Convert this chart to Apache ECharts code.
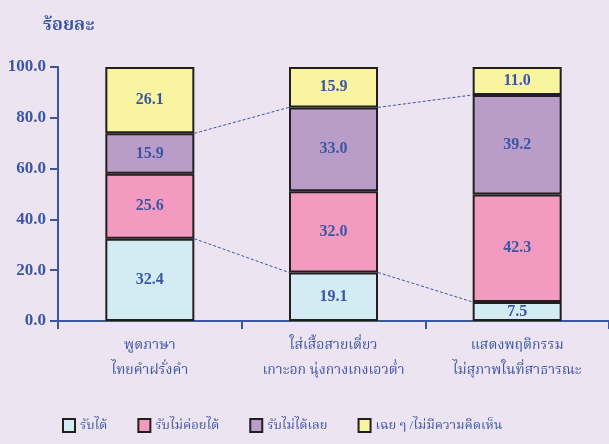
<!DOCTYPE html>
<html>
<head>
<meta charset="utf-8">
<script src="https://cdn.jsdelivr.net/npm/echarts@6/dist/echarts.min.js"></script>
<style>
  html, body { margin: 0; padding: 0; background: #ece4f1; }
  #chart { width: 609px; height: 444px; }
</style>
</head>
<body>
<div id="chart"></div>
<script>
// Categories and stacked percentages
const categories = [
  "พูดภาษา\nไทยคำฝรั่งคำ",
  "ใส่เสื้อสายเดี่ยว\nเกาะอก นุ่งกางเกงเอวต่ำ",
  "แสดงพฤติกรรม\nไม่สุภาพในที่สาธารณะ",
];
const accept = [32.4, 19.1, 7.5];
const barelyAccept = [25.6, 32.0, 42.3];
const notAccept = [15.9, 33.0, 39.2];
const neutral = [26.1, 15.9, 11.0];
const yTicks = [0, 20, 40, 60, 80, 100];

const seriesNames = ["รับได้", "รับไม่ค่อยได้", "รับไม่ได้เลย", "เฉย ๆ /ไม่มีความคิดเห็น"];
const colors = ["#d3ecf3", "#f29ac0", "#b99cc8", "#f9f49f"];

const BLUE = "#3c56a6";
const FONT = "'Liberation Serif', 'Noto Serif Thai', 'Noto Sans Thai', serif";
const BAR_W = 89;

// cumulative tops used by the dashed connector lines
const lowerTops = accept;
const upperTops = accept.map((v, i) => v + barelyAccept[i] + notAccept[i]);

const chart = echarts.init(document.getElementById("chart"));

function barSeries(name, data, color) {
  return {
    name: name,
    type: "bar",
    stack: "total",
    data: data,
    barWidth: BAR_W,
    itemStyle: { color: color, borderColor: "#231f20", borderWidth: 2 },
    label: {
      show: true,
      position: "inside",
      formatter: (p) => p.value.toFixed(1),
      color: BLUE,
      fontFamily: FONT,
      fontWeight: "bold",
      fontSize: 16,
    },
  };
}

chart.setOption({
  animation: false,
  backgroundColor: "#ece4f1",
  title: {
    text: "ร้อยละ",
    left: 38,
    top: 11,
    textStyle: { color: BLUE, fontFamily: FONT, fontWeight: "bold", fontSize: 18 },
  },
  grid: { left: 58, top: 67, bottom: 123, width: 555 },
  legend: {
    bottom: 6,
    left: 57,
    icon: "rect",
    itemWidth: 12,
    itemHeight: 13,
    itemGap: 30,
    data: seriesNames,
    textStyle: { color: BLUE, fontFamily: FONT, fontSize: 13 },
  },
  xAxis: {
    type: "category",
    data: categories,
    axisLine: { lineStyle: { color: BLUE, width: 2 } },
    axisTick: { show: true, length: 8, lineStyle: { color: BLUE, width: 2 } },
    axisLabel: {
      interval: 0,
      color: BLUE,
      fontFamily: FONT,
      fontSize: 14,
      lineHeight: 25,
      margin: 12,
    },
  },
  yAxis: {
    type: "value",
    min: yTicks[0],
    max: yTicks[yTicks.length - 1],
    interval: 20,
    axisLine: { show: true, lineStyle: { color: BLUE, width: 2 } },
    axisTick: { show: true, length: 8, lineStyle: { color: BLUE, width: 2 } },
    splitLine: { show: false },
    axisLabel: {
      color: BLUE,
      fontFamily: FONT,
      fontWeight: "bold",
      fontSize: 17,
      margin: 12,
      formatter: (v) => v.toFixed(1),
    },
  },
  series: [
    barSeries(seriesNames[0], accept, colors[0]),
    barSeries(seriesNames[1], barelyAccept, colors[1]),
    barSeries(seriesNames[2], notAccept, colors[2]),
    barSeries(seriesNames[3], neutral, colors[3]),
    {
      // dashed series lines between neighbouring bars
      type: "custom",
      silent: true,
      z: 1,
      data: [0, 1],
      renderItem: function (params, api) {
        const i = params.dataIndex;
        const half = BAR_W / 2;
        const children = [lowerTops, upperTops].map((tops) => {
          const a = api.coord([i, tops[i]]);
          const b = api.coord([i + 1, tops[i + 1]]);
          return {
            type: "line",
            shape: { x1: a[0] + half, y1: a[1], x2: b[0] - half, y2: b[1] },
            style: { stroke: BLUE, lineWidth: 1, lineDash: [3, 2] },
          };
        });
        return { type: "group", children: children };
      },
    },
  ],
});
</script>
</body>
</html>
